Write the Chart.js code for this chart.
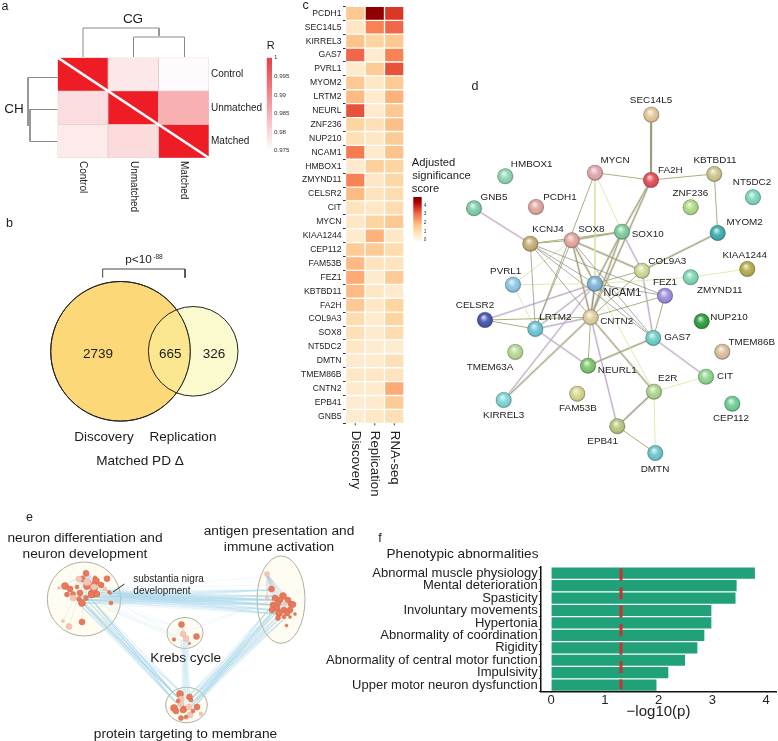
<!DOCTYPE html>
<html>
<head>
<meta charset="utf-8">
<title>Figure panels</title>
<script src="https://cdn.jsdelivr.net/npm/chart.js@4"></script>
<style>
  html, body { margin: 0; padding: 0; background: #fff; }
  body { position: relative; width: 778px; height: 741px; overflow: hidden; }
  canvas { position: absolute; }
  .note { position: absolute; transform: translate(-50%, -50%); white-space: nowrap; color: #1c1c1c; font-family: "Liberation Sans", Arial, sans-serif; }
</style>
</head>
<body>
<script>
// ---- panel a: correlation heatmap
const methylationGroups = ['Control', 'Unmatched', 'Matched'];
const rControlColumn = [1, 0.9787, 0.9773];
const rUnmatchedColumn = [0.9775, 1, 0.979];
const rMatchedColumn = [0.9755, 0.98375, 1];
const rTicks = [0.975, 0.98, 0.985, 0.99, 0.995, 1];
const dendrogramCG = [[[83, 57], [83, 28], [159, 28], [159, 36]], [[133.5, 57], [133.5, 37], [184.5, 37], [184.5, 57]]];
const dendrogramCH = [[[57.5, 77.5], [28, 77.5], [28, 126]], [[57.5, 109.5], [30, 109.5], [30, 141.5], [57.5, 141.5]]];

// ---- panel b: venn
const vennCounts = ['2739', '665', '326'];
const vennCentres = [{ x: 120.5, y: 351.3 }, { x: 193.2, y: 351.3 }];
const bracketPath = [[102.7, 277.7], [102.7, 269], [185, 269], [185, 277.7]];

// ---- panel c: gene significance heatmap
const heatGenes = ['PCDH1', 'SEC14L5', 'KIRREL3', 'GAS7', 'PVRL1', 'MYOM2', 'LRTM2', 'NEURL', 'ZNF236', 'NUP210', 'NCAM1', 'HMBOX1', 'ZMYND11', 'CELSR2', 'CIT', 'MYCN', 'KIAA1244', 'CEP112', 'FAM53B', 'FEZ1', 'KBTBD11', 'FA2H', 'COL9A3', 'SOX8', 'NT5DC2', 'DMTN', 'TMEM86B', 'CNTN2', 'EPB41', 'GNB5'];
const heatColumns = ['Discovery', 'Replication', 'RNA-seq'];
const discoveryScores = [1.4, 0.6, 1.5, 2.8, 0.5, 1.4, 1.7, 3.0, 1.1, 0.8, 2.5, 0.5, 2.4, 1.7, 0.7, 0.6, 0.5, 1.3, 1.7, 1.9, 1.7, 1.4, 0.9, 0.8, 0.6, 0.5, 0.6, 0.5, 0.4, 0.4];
const replicationScores = [4.3, 2.4, 1.1, 0.5, 1.3, 0.6, 0.5, 0.5, 0.8, 0.6, 0.5, 1.2, 0.6, 0.7, 0.6, 1.1, 1.8, 1.3, 0.7, 0.5, 0.6, 0.6, 0.5, 0.5, 0.4, 0.5, 0.6, 0.5, 0.5, 0.6];
const rnaseqScores = [3.3, 2.8, 1.4, 2.4, 3.0, 1.3, 1.8, 1.4, 1.6, 1.3, 1.5, 1.1, 1.0, 0.9, 0.9, 1.4, 0.6, 0.9, 0.7, 1.3, 0.5, 1.1, 1.1, 0.9, 0.4, 0.8, 0.7, 1.9, 1.3, 0.8];
const scoreTicks = [0, 1, 2, 3, 4];

// ---- panel d: protein interaction network
const stringGenes = ['SEC14L5', 'MYCN', 'FA2H', 'KBTBD11', 'HMBOX1', 'GNB5', 'PCDH1', 'ZNF236', 'NT5DC2', 'KCNJ4', 'SOX8', 'SOX10', 'MYOM2', 'COL9A3', 'KIAA1244', 'ZMYND11', 'PVRL1', 'NCAM1', 'FEZ1', 'CELSR2', 'LRTM2', 'CNTN2', 'NUP210', 'GAS7', 'TMEM86B', 'TMEM63A', 'NEURL1', 'E2R', 'CIT', 'KIRREL3', 'FAM53B', 'CEP112', 'EPB41', 'DMTN'];
const stringX = [651.3, 595, 651, 714.3, 505.3, 474, 536, 690.7, 753, 530.3, 571.7, 622, 717.7, 642, 747.3, 690.7, 513, 595, 665, 485, 535.3, 590.7, 701.7, 653.3, 722.3, 515.3, 588, 654, 706, 503.7, 577.3, 732.3, 617.3, 655.3];
const stringY = [114.7, 172.7, 180, 174, 176.3, 208.3, 207, 207.3, 197.3, 243.7, 240.3, 231.7, 233, 270.7, 269, 277.3, 284.7, 283.7, 295.7, 320, 329, 317.3, 321.3, 338, 351.7, 352, 365.7, 391.7, 376.7, 400, 393.7, 403.7, 426.3, 453];
const stringFill = ['#e8c89a', '#e6a8b0', '#e8505a', '#cfc78c', '#8fd8b8', '#80d0a8', '#e4a8a0', '#b0dc88', '#80d8c0', '#c8b078', '#e4a8a0', '#80d0a0', '#40b0b0', '#d0dc98', '#b8b050', '#80d8b8', '#90c8e8', '#80b8d8', '#a090e0', '#4858b0', '#70c8d8', '#e0d0a0', '#30a040', '#70d0c8', '#e0c0a0', '#b8dc98', '#80c870', '#b0d890', '#90d890', '#80d8d8', '#d8d890', '#70d098', '#b8c880', '#70c8d0'];
const stringLabelX = [651, 615, 670.3, 715, 531.7, 494, 560, 690.3, 752, 548, 591.3, 647.7, 744.7, 667.3, 744.7, 719.7, 505.7, 622.3, 665, 475, 555.3, 616.7, 729, 677.3, 751.7, 490, 617.3, 667.7, 725, 503.7, 578, 731, 602.7, 655];
const stringLabelY = [100.3, 160.7, 170.3, 160.3, 164.7, 197.7, 197, 193.7, 182.3, 229.7, 229.3, 234, 222, 261.3, 255, 290, 271, 293, 282.3, 305.7, 317.3, 321, 317.7, 337.7, 342.3, 367.3, 370.7, 378.3, 376.7, 415.3, 408, 418.7, 441, 469];
const thickEdges = [['SEC14L5', 'FA2H'], ['FA2H', 'SOX10'], ['FA2H', 'CNTN2'], ['SOX8', 'SOX10'], ['SOX10', 'NCAM1'], ['SOX10', 'CNTN2'], ['SOX8', 'COL9A3'], ['COL9A3', 'MYOM2'], ['NCAM1', 'CNTN2'], ['CNTN2', 'E2R'], ['CNTN2', 'KIRREL3'], ['NEURL1', 'GAS7'], ['E2R', 'EPB41'], ['SOX8', 'CNTN2'], ['SOX8', 'NCAM1']];
const oliveEdges = [['MYCN', 'FA2H'], ['FA2H', 'KBTBD11'], ['KBTBD11', 'MYOM2'], ['MYCN', 'LRTM2'], ['KCNJ4', 'SOX10'], ['KCNJ4', 'SOX8'], ['CNTN2', 'CELSR2'], ['CNTN2', 'FEZ1'], ['CNTN2', 'NEURL1'], ['FEZ1', 'GAS7'], ['EPB41', 'DMTN'], ['COL9A3', 'NCAM1'], ['COL9A3', 'CNTN2'], ['CELSR2', 'LRTM2']];
const darkEdges = [['KCNJ4', 'NCAM1'], ['KCNJ4', 'CNTN2'], ['KCNJ4', 'LRTM2'], ['KCNJ4', 'FEZ1'], ['KCNJ4', 'GAS7'], ['SOX8', 'GAS7'], ['SOX8', 'LRTM2'], ['NCAM1', 'FEZ1'], ['NCAM1', 'GAS7']];
const yellowEdges = [['MYCN', 'SOX10'], ['MYCN', 'NCAM1'], ['PVRL1', 'SOX8'], ['PVRL1', 'NCAM1'], ['PVRL1', 'LRTM2'], ['E2R', 'CIT'], ['E2R', 'DMTN'], ['NCAM1', 'E2R'], ['ZMYND11', 'KIAA1244'], ['NCAM1', 'ZMYND11']];
const pinkEdges = [['GNB5', 'KCNJ4'], ['SOX10', 'COL9A3'], ['COL9A3', 'GAS7'], ['NCAM1', 'CELSR2'], ['NCAM1', 'LRTM2'], ['CNTN2', 'LRTM2'], ['CNTN2', 'EPB41'], ['LRTM2', 'NEURL1'], ['GAS7', 'CIT'], ['E2R', 'EPB41'], ['NCAM1', 'KIRREL3'], ['NCAM1', 'CNTN2']];

// ---- panel e: enrichment map clusters, each node is x, y, weight, pale
const neuronNodes = [[86, 573.3, 3], [107, 578.7, 3], [95, 578, 2], [82, 579, 3], [79, 579, 3, 1], [88, 582, 2.5], [96, 581, 3.5], [87, 586, 3.5], [77, 587, 2], [94, 585, 3], [101, 585, 3], [65, 586, 3.5], [70, 589, 3], [73, 594, 2.5], [67, 594.5, 2.5], [80, 593, 3], [79, 599, 2.5], [92, 594, 4], [86, 598, 2.5], [94, 589, 3.5], [97, 594, 3], [82, 603, 3.5], [73, 598, 3, 1], [87, 582, 3.5, 1], [94, 587, 3, 1], [59, 588, 1.5, 1], [105, 589, 2, 1], [109, 592, 1.5], [111, 603, 2], [110, 593, 1.5], [82, 622, 3], [69, 626.5, 3, 1], [63, 621, 1.5, 1]];
const immuneNodes = [[267, 574, 2.5, 1], [271.5, 589, 3], [267, 598, 1.8, 1], [283, 596, 3.5], [275, 598, 3], [280, 600, 3], [288, 600, 3], [291, 604, 3], [293, 604.5, 3], [273, 605, 3], [278, 603, 3], [285, 604, 2, 1], [290, 610, 3], [284, 610, 3], [277, 608, 3], [279, 613, 3.5], [287, 613, 3], [272, 610, 3], [284, 617, 2], [278, 618, 2.5], [290, 617, 1.5], [295, 614, 1.5], [286.5, 625.5, 1.5]];
const krebsNodes = [[181.5, 624.5, 3], [183, 634, 3, 1], [186, 638.5, 3, 1], [196.5, 636.5, 3], [174, 639.5, 1.8], [189.5, 643.5, 1.2]];
const membraneNodes = [[180, 694, 3.5], [181, 699, 3, 1], [189.5, 697, 3], [174, 708, 3.5], [176, 711, 3], [181, 704, 3, 1], [184, 709, 3], [189, 707, 3, 1], [197, 707, 3], [181, 718, 2.5], [190, 715, 3, 1], [183, 710, 3], [191, 700, 2], [201, 714, 2, 1], [186, 717, 2], [178, 701, 2], [193, 711, 2]];
const clusterOutlines = [[84, 599, 36.7, 37], [281, 599.7, 24, 43.7], [185, 633, 18, 15.5], [186.5, 705, 20.8, 17.7]];
const neuronToImmune = [[[80, 596], [84, 600], [82, 603], [88, 597], [92, 594], [96, 592], [100, 590], [108, 593], [110, 596], [78, 600]], [[272, 590], [272, 596], [274, 600], [275, 605], [275, 610], [276, 614], [280, 600], [283, 605]]];
const neuronToMembrane = [[[80, 600], [82, 603], [85, 603], [88, 601], [90, 598], [92, 600], [78, 603]], [[176, 695], [178, 698], [180, 700], [176, 703], [183, 694], [174, 700]]];
const immuneToMembrane = [[[272, 612], [275, 614], [278, 616], [280, 618], [283, 620], [276, 610], [270, 608]], [[188, 702], [192, 703], [190, 708], [195, 706], [186, 698], [197, 700], [192, 698]]];
const krebsToMembrane = [[[183, 640], [181, 640], [186, 640], [188, 640], [184, 638]], [[182, 695], [184, 695], [186, 695], [188, 696], [190, 696]]];
const neuronToKrebs = [[[95, 600], [100, 605], [108, 610], [115, 600]], [[172, 625], [175, 635], [180, 640]]];
const immuneToKrebs = [[[268, 602], [272, 600]], [[190, 630], [195, 625]]];
const neuronFaint = [[[105, 590], [100, 588]], [[265, 577], [268, 585]]];

// ---- panel f: phenotype enrichment
const phenotypes = ['Abnormal muscle physiology', 'Mental deterioration', 'Spasticity', 'Involuntary movements', 'Hypertonia', 'Abnormality of coordination', 'Rigidity', 'Abnormality of central motor function', 'Impulsivity', 'Upper motor neuron dysfunction'];
const phenotypeLogP = [3.79, 3.45, 3.43, 2.98, 2.98, 2.85, 2.72, 2.49, 2.18, 1.96];
const logPTicks = [0, 1, 2, 3, 4];
const logPThreshold = 1.3;

// free text: text, centre x, centre y, font size
const notes = [
  ['a', 5, 6, 12.5], ['b', 9.5, 222.7, 12.5], ['c', 305.7, 4.7, 12.5], ['d', 475, 86, 12.5], ['e', 29.5, 517, 12.5], ['f', 380, 538, 12.5],
  ['CG', 133, 18, 13.5], ['CH', 14, 108, 13.5], ['R', 270.7, 45, 11],
  ['p<10', 138.5, 259, 11.8], ['-88', 158, 256, 6.5],
  [vennCounts[0], 98, 352.7, 13.5], [vennCounts[1], 170.3, 352.7, 13.5], [vennCounts[2], 214, 352.7, 13.5],
  ['Discovery', 104, 436.3, 13.5], ['Replication', 183, 436.3, 13.5], ['Matched PD Δ', 140, 459.7, 13.6],
  ['Adjusted', 433.5, 161.7, 11.2], ['significance', 441.5, 175, 11.2], ['score', 425.5, 188.3, 11.2],
  ['neuron differentiation and', 85, 536.7, 13.7], ['neuron development', 85, 553, 13.7],
  ['antigen presentation and', 279, 530, 13.7], ['immune activation', 279, 546, 13.7],
  ['substantia nigra', 168.5, 578, 10], ['development', 162, 589.5, 10],
  ['Krebs cycle', 185.7, 657, 13.7], ['protein targeting to membrane', 185.5, 733, 13.7],
  ['Phenotypic abnormalities', 462.5, 553, 13.6]
];

const FONT = '"Liberation Sans", Arial, sans-serif';
Chart.defaults.font.family = FONT;
Chart.defaults.color = '#222';
Chart.defaults.animation = false;
Chart.defaults.responsive = false;
Chart.defaults.events = [];
Chart.defaults.plugins.legend.display = false;
Chart.defaults.plugins.tooltip.enabled = false;

// canvas at a given place on the page
function addCanvas(x, y, w, h) {
  const c = document.createElement('canvas');
  c.width = w;
  c.height = h;
  c.style.left = x + 'px';
  c.style.top = y + 'px';
  document.body.appendChild(c);
  return c;
}

// force the axis box so the plot area lands where it should
function fixSize(size) {
  return function(scale) {
    if (scale.isHorizontal()) scale.height = size; else scale.width = size;
    scale.paddingLeft = scale.paddingRight = scale.paddingTop = scale.paddingBottom = 0;
  };
}

function setTicks(values) {
  return function(scale) {
    scale.ticks = values.map(v => ({ value: v }));
  };
}

function mix(stops, t) {
  const pos = Math.min(Math.max(t, 0), 0.9999) * (stops.length - 1);
  const i = Math.floor(pos);
  const f = pos - i;
  const a = stops[i], b = stops[i + 1];
  return 'rgb(' + [0, 1, 2].map(k => Math.round(a[k] + (b[k] - a[k]) * f)).join(',') + ')';
}
const RED_STOPS = [[255, 255, 255], [238, 28, 37]];
const ORRD_STOPS = [[255, 247, 236], [254, 232, 200], [253, 212, 158], [253, 187, 132], [252, 141, 89], [239, 101, 72], [215, 48, 31], [179, 0, 0], [127, 0, 0]];
const rColour = v => mix(RED_STOPS, (v - 0.975) / 0.025);
const scoreColour = v => mix(ORRD_STOPS, v / 4.5);

// rotated column names under a heatmap
const columnLabelPlugin = {
  id: 'columnLabels',
  afterDraw(chart, args, opts) {
    const { ctx, scales, chartArea } = chart;
    ctx.save();
    ctx.fillStyle = '#222';
    ctx.strokeStyle = '#333';
    ctx.font = opts.size + 'px ' + FONT;
    ctx.textBaseline = 'middle';
    opts.labels.forEach((label, i) => {
      const x = scales.x.getPixelForValue(i + 0.5);
      if (opts.tick) {
        ctx.beginPath();
        ctx.moveTo(x, chartArea.bottom);
        ctx.lineTo(x, chartArea.bottom + opts.tick);
        ctx.stroke();
      }
      ctx.save();
      ctx.translate(x, chartArea.bottom + opts.gap);
      ctx.rotate(Math.PI / 2);
      ctx.fillText(label, 0, 0);
      ctx.restore();
    });
    ctx.restore();
  }
};

function heatmap(canvas, rows, columns, colourOf, cellBorder, borderWidth, axis, plugins, padding, columnOpts) {
  return new Chart(canvas, {
    type: 'bar',
    data: {
      labels: rows,
      datasets: columns.map(values => ({
        data: values.map(() => 1),
        backgroundColor: values.map(colourOf),
        borderColor: cellBorder,
        borderWidth: borderWidth,
        borderSkipped: false,
        categoryPercentage: 1,
        barPercentage: 1
      }))
    },
    options: {
      indexAxis: 'y',
      layout: { padding: padding },
      plugins: { columnLabels: columnOpts },
      scales: {
        x: { type: 'linear', stacked: true, display: false, min: 0, max: columns.length },
        y: axis
      }
    },
    plugins: [columnLabelPlugin].concat(plugins)
  });
}

// colour key as one floating bar along a value axis
function colourBar(canvas, low, high, ticks, colourAt, tickFormat, size, width, padding) {
  return new Chart(canvas, {
    type: 'bar',
    data: {
      labels: ['key'],
      datasets: [{
        data: [[low, high]],
        categoryPercentage: 1,
        barPercentage: 1,
        backgroundColor(ctx) {
          const area = ctx.chart.chartArea;
          if (!area) return '#fff';
          const g = ctx.chart.ctx.createLinearGradient(0, area.bottom, 0, area.top);
          for (let i = 0; i <= 20; i++) g.addColorStop(i / 20, colourAt(low + (high - low) * i / 20));
          return g;
        }
      }]
    },
    options: {
      layout: { padding: padding },
      scales: {
        x: { display: false },
        y: {
          position: 'right', min: low, max: high,
          afterBuildTicks: setTicks(ticks),
          afterFit: fixSize(width),
          grid: { display: false, drawTicks: false },
          border: { display: false },
          ticks: { font: { size: size }, padding: 2, color: '#333', callback: tickFormat }
        }
      }
    }
  });
}

// scatter chart whose scales span a page region, used by the free-form panels
function panelChart(box, datasets, plugins) {
  return new Chart(addCanvas(box.x, box.y, box.w, box.h), {
    type: 'scatter',
    data: { datasets: datasets },
    options: {
      layout: { padding: 0, autoPadding: false },
      scales: {
        x: { type: 'linear', display: false, min: box.x, max: box.x + box.w },
        y: { type: 'linear', display: false, reverse: true, min: box.y, max: box.y + box.h }
      }
    },
    plugins: plugins || []
  });
}

// list of paths -> one line dataset, null y breaks the line between paths
function pathData(paths) {
  const out = [];
  paths.forEach(path => {
    path.forEach(p => out.push({ x: p[0], y: p[1] }));
    out.push({ x: path[0][0], y: null });
  });
  return out;
}

function lineSet(paths, colour, width, order) {
  return { data: pathData(paths), showLine: true, pointRadius: 0, borderColor: colour, borderWidth: width, order: order, spanGaps: false, clip: false };
}

// every start of a bundle joined to every end of it
function bundlePaths(bundle) {
  const out = [];
  bundle[0].forEach(a => bundle[1].forEach(b => out.push([a, b])));
  return out;
}

// ---- panel a
const diagonalPlugin = {
  id: 'diagonal',
  afterDatasetsDraw(chart) {
    const { ctx, chartArea: a } = chart;
    ctx.save();
    ctx.strokeStyle = '#fff';
    ctx.lineWidth = 2.6;
    ctx.beginPath();
    ctx.moveTo(a.left, a.top);
    ctx.lineTo(a.right, a.bottom);
    ctx.stroke();
    ctx.restore();
  }
};
panelChart({ x: 0, y: 0, w: 220, h: 160 }, [
  lineSet(dendrogramCG.concat(dendrogramCH), '#8a8a8a', 1, 1),
  lineSet([[[28, 110], [30, 110]]], '#8a8a8a', 1, 1)
]);
heatmap(addCanvas(57, 57, 210, 160), methylationGroups, [rControlColumn, rUnmatchedColumn, rMatchedColumn], rColour, 'rgba(205,190,190,0.8)', 0.7, {
  type: 'category', position: 'right', stacked: true, afterFit: fixSize(58),
  grid: { display: false, drawTicks: false }, border: { display: false },
  ticks: { font: { size: 10 }, padding: 2, color: '#222' }
}, [diagonalPlugin], { left: 0.5, top: 0.5, bottom: 59 }, { labels: methylationGroups, size: 10, gap: 3, tick: 0 });
colourBar(addCanvas(262, 50, 40, 108), 0.975, 1, rTicks, v => mix([[255, 255, 255], [232, 71, 78]], (v - 0.975) / 0.0235), v => (v === 1 ? '1' : String(v)), 6.2, 30, { left: 4.7, right: 0, top: 7.7, bottom: 7.3 });

// ---- panel b
panelChart({ x: 0, y: 260, w: 300, h: 170 }, [
  lineSet([bracketPath], '#444', 1, 1),
  { data: [vennCentres[0]], pointRadius: 69.8, pointBackgroundColor: 'transparent', pointBorderColor: '#222', pointBorderWidth: 1, order: 2, clip: false },
  { data: [vennCentres[1]], pointRadius: 44.8, pointBackgroundColor: 'rgba(248,244,163,0.533)', pointBorderColor: '#222', pointBorderWidth: 1, order: 3, clip: false },
  { data: [vennCentres[0]], pointRadius: 69.8, pointBackgroundColor: '#fdd878', pointBorderColor: '#222', pointBorderWidth: 1, order: 4, clip: false }
]);

// ---- panel c
heatmap(addCanvas(300, 0, 110, 500), heatGenes, [discoveryScores, replicationScores, rnaseqScores], scoreColour, '#fff', 1, {
  type: 'category', stacked: true, afterFit: fixSize(45.5),
  grid: { drawOnChartArea: false, tickLength: 2.5, tickColor: '#333', tickWidth: 1 }, border: { display: false },
  ticks: { font: { size: 8.6 }, padding: 1.5, color: '#222', autoSkip: false }
}, [], { top: 6.4, bottom: 76.7, right: 6 }, { labels: heatColumns, size: 13.3, gap: 7.5, tick: 2 });
colourBar(addCanvas(410, 190, 30, 58), -0.1, 5, scoreTicks, v => scoreColour(v * 0.9), v => String(v), 4.8, 18.3, { left: 3.3, top: 7, bottom: 7.3, right: 0 });

// ---- panel d
const geneAt = name => { const i = stringGenes.indexOf(name); return [stringX[i], stringY[i]]; };
const edgePaths = pairs => pairs.map(p => [geneAt(p[0]), geneAt(p[1])]);
const spherePlugin = {
  id: 'spheres',
  afterDatasetsDraw(chart) {
    const { ctx } = chart;
    chart.getDatasetMeta(0).data.forEach(pt => {
      const r = 7.8;
      const g = ctx.createRadialGradient(pt.x - 1.5, pt.y - 3, 0.5, pt.x, pt.y, r);
      g.addColorStop(0, 'rgba(255,255,255,0.75)');
      g.addColorStop(0.45, 'rgba(255,255,255,0.08)');
      g.addColorStop(0.8, 'rgba(0,0,0,0.04)');
      g.addColorStop(1, 'rgba(0,0,0,0.3)');
      ctx.fillStyle = g;
      ctx.beginPath();
      ctx.arc(pt.x, pt.y, r, 0, Math.PI * 2);
      ctx.fill();
    });
  }
};
const geneLabelPlugin = {
  id: 'geneLabels',
  afterDraw(chart) {
    const { ctx, scales } = chart;
    ctx.save();
    ctx.fillStyle = '#222';
    ctx.textAlign = 'center';
    ctx.textBaseline = 'middle';
    stringGenes.forEach((gene, i) => {
      ctx.font = (gene === 'NCAM1' ? 10.8 : 9.9) + 'px ' + FONT;
      ctx.fillText(gene, scales.x.getPixelForValue(stringLabelX[i]), scales.y.getPixelForValue(stringLabelY[i]));
    });
    ctx.restore();
  }
};
panelChart({ x: 440, y: 90, w: 338, h: 390 }, [
  {
    data: stringGenes.map((g, i) => ({ x: stringX[i], y: stringY[i] })),
    pointRadius: 7.8, pointBackgroundColor: stringFill, pointBorderColor: 'rgba(90,90,90,0.35)', pointBorderWidth: 0.6, order: 0
  },
  lineSet(edgePaths(darkEdges), '#8a8a7c', 0.7, 2),
  lineSet(edgePaths(oliveEdges), '#a9b277', 1, 3),
  lineSet(edgePaths(yellowEdges), '#dde6a6', 0.9, 4),
  lineSet(edgePaths(thickEdges), '#84846f', 0.7, 5),
  lineSet(edgePaths(thickEdges), '#e2ddca', 2.6, 7),
  lineSet(edgePaths(pinkEdges), '#b29dc6', 0.8, 6),
  lineSet(edgePaths(pinkEdges), '#ebe2e8', 2.3, 8)
], [spherePlugin, geneLabelPlugin]);

// ---- panel e
const clusterPlugin = {
  id: 'clusters',
  beforeDatasetsDraw(chart) {
    const { ctx, scales } = chart;
    ctx.save();
    ctx.fillStyle = '#fffdf2';
    ctx.strokeStyle = '#9a9a8e';
    ctx.lineWidth = 0.8;
    clusterOutlines.forEach(c => {
      const x = scales.x.getPixelForValue(c[0]);
      const y = scales.y.getPixelForValue(c[1]);
      ctx.beginPath();
      ctx.ellipse(x, y, c[2], c[3], 0, 0, Math.PI * 2);
      ctx.fill();
      ctx.stroke();
    });
    ctx.restore();
  }
};
const allEnrichNodes = neuronNodes.concat(immuneNodes, krebsNodes, membraneNodes);
// thin spokes inside each cluster, from each term to the cluster's first term
const spokes = nodes => nodes.slice(1).map(n => [[nodes[0][0], nodes[0][1]], [n[0], n[1]]]);
const BLUE = 'rgba(160,210,232,0.3)';
const BLUE_FAINT = 'rgba(175,218,236,0.2)';
panelChart({ x: 0, y: 510, w: 340, h: 231 }, [
  {
    data: allEnrichNodes.map(n => ({ x: n[0], y: n[1] })),
    pointRadius: allEnrichNodes.map(n => n[2]),
    pointBackgroundColor: allEnrichNodes.map(n => (n[3] ? '#f4c6b6' : '#e8795a')),
    pointBorderColor: allEnrichNodes.map(n => (n[3] ? '#e8b5a3' : '#cf6a4c')),
    pointBorderWidth: 0.5,
    order: 0
  },
  lineSet(spokes(neuronNodes).concat(spokes(immuneNodes), spokes(krebsNodes), spokes(membraneNodes)), 'rgba(175,195,210,0.5)', 0.5, 1),
  lineSet(bundlePaths(neuronToImmune), BLUE, 0.6, 2),
  lineSet(bundlePaths(neuronToMembrane), BLUE, 0.8, 2),
  lineSet(bundlePaths(immuneToMembrane), BLUE, 0.8, 2),
  lineSet(bundlePaths(krebsToMembrane), BLUE_FAINT, 0.7, 3),
  lineSet(bundlePaths(neuronToKrebs), BLUE_FAINT, 0.6, 3),
  lineSet(bundlePaths(immuneToKrebs), BLUE_FAINT, 0.6, 3),
  lineSet(bundlePaths(neuronFaint), BLUE_FAINT, 0.5, 3),
  lineSet([[[113, 592], [124.5, 584]]], '#111', 0.9, 0)
], [clusterPlugin]);

// ---- panel f
const thresholdPlugin = {
  id: 'threshold',
  afterDatasetsDraw(chart) {
    const { ctx, scales, chartArea } = chart;
    const x = scales.x.getPixelForValue(logPThreshold);
    ctx.save();
    ctx.strokeStyle = '#c8342c';
    ctx.lineWidth = 3;
    ctx.setLineDash([12.3, 6.2]);
    ctx.beginPath();
    ctx.moveTo(x, chartArea.top + 1.5);
    ctx.lineTo(x, chartArea.bottom - 2);
    ctx.stroke();
    ctx.restore();
  }
};
new Chart(addCanvas(300, 560, 478, 170), {
  type: 'bar',
  data: {
    labels: phenotypes,
    datasets: [{
      data: phenotypeLogP,
      backgroundColor: '#21a179',
      categoryPercentage: 1,
      barPercentage: 0.9
    }]
  },
  options: {
    indexAxis: 'y',
    layout: { padding: { top: 7, right: 1.3, bottom: 0 } },
    scales: {
      x: {
        type: 'linear', min: -0.2, max: 4.195,
        afterBuildTicks: setTicks(logPTicks),
        afterFit: fixSize(38.7),
        grid: { drawOnChartArea: false, tickLength: 1.5, tickColor: '#111' },
        border: { color: '#111', width: 1.5 },
        ticks: { font: { size: 13 }, padding: 0, color: '#222', maxRotation: 0 },
        title: { display: true, text: '−log10(p)', font: { size: 15 }, color: '#222', padding: { top: 0, bottom: 9 } }
      },
      y: {
        type: 'category',
        afterFit: fixSize(240.3),
        grid: { drawOnChartArea: false, tickLength: 1.5, tickColor: '#333' },
        border: { color: '#111', width: 1.5 },
        ticks: { font: { size: 13 }, padding: 1, color: '#222', autoSkip: false }
      }
    }
  },
  plugins: [thresholdPlugin]
});

// ---- free text
notes.forEach(n => {
  const d = document.createElement('div');
  d.className = 'note';
  d.textContent = n[0];
  d.style.left = n[1] + 'px';
  d.style.top = n[2] + 'px';
  d.style.fontSize = n[3] + 'px';
  document.body.appendChild(d);
});
</script>
</body>
</html>
